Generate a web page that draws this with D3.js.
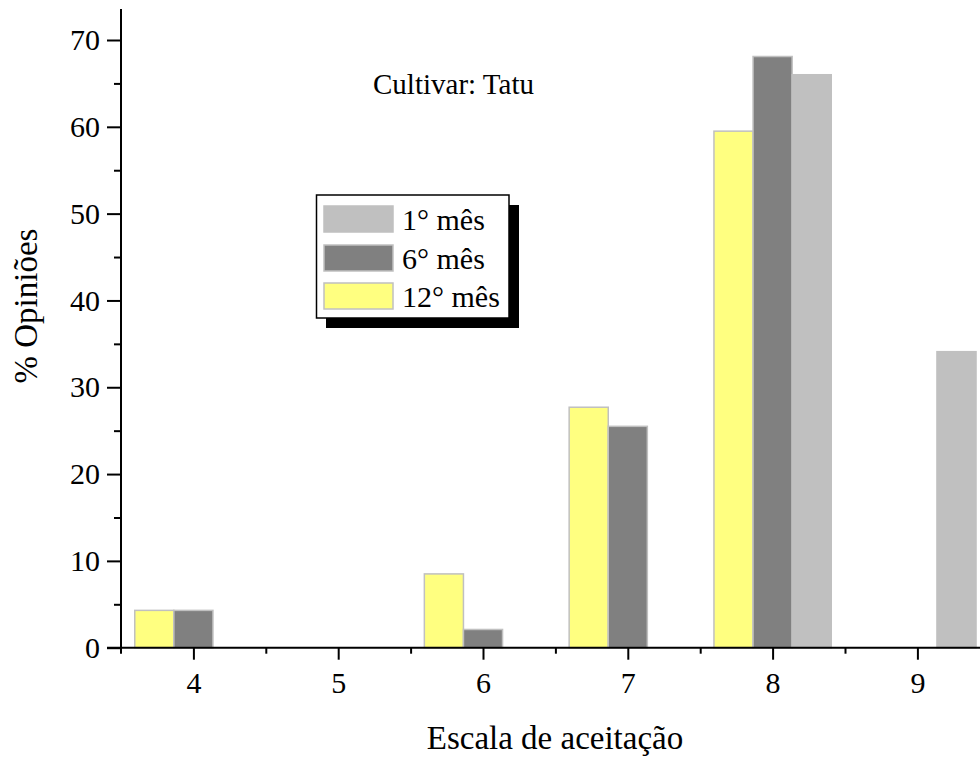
<!DOCTYPE html>
<html>
<head>
<meta charset="utf-8">
<script src="https://cdn.jsdelivr.net/npm/d3@7"></script>
<style>
  body { margin: 0; background: #fff; }
  text { font-family: "Liberation Serif", "Times New Roman", serif; fill: #000; }
</style>
</head>
<body>
<div id="chart"></div>
<script>

/* DATA */
const categories = [4, 5, 6, 7, 8, 9];
const seriesNames = ["12° mês", "6° mês", "1° mês"];
const month12 = [4.3, 0, 8.5, 27.7, 59.5, 0];
const month6 = [4.3, 0, 2.1, 25.5, 68.1, 0];
const month1 = [0, 0, 0, 0, 66.0, 34.1];
const yTicks = [0, 10, 20, 30, 40, 50, 60, 70];
const legendOrder = ["1° mês", "6° mês", "12° mês"];

const width = 980;
const height = 759;

const colors = {
  "1° mês": "#c0c0c0",
  "6° mês": "#808080",
  "12° mês": "#ffff80"
};

const svg = d3.select("#chart")
  .append("svg")
  .attr("width", width)
  .attr("height", height);

// SCALES
const xScale = d3.scaleLinear()
  .domain([3.5, 9.5])
  .range([121, 121 + 6 * 144.8]);

const yScale = d3.scaleLinear()
  .domain([0, 70])
  .range([647.7, 40]);

// bars sit side by side, 6° mês centred on the tick
const barW = 0.27;
const offset = d3.scaleOrdinal()
  .domain(seriesNames)
  .range([-1.5 * barW, -0.5 * barW, 0.5 * barW]);

const rows = [];
const seriesVals = [month12, month6, month1];
seriesNames.forEach((s, si) => {
  categories.forEach((c, ci) => {
    if (seriesVals[si][ci] > 0) rows.push({ series: s, cat: c, value: seriesVals[si][ci] });
  });
});

// BARS
svg.selectAll("rect.bar")
  .data(rows)
  .join("rect")
  .attr("class", "bar")
  .attr("x", d => xScale(d.cat + offset(d.series)))
  .attr("width", d => xScale(d.cat + offset(d.series) + barW) - xScale(d.cat + offset(d.series)))
  .attr("y", d => yScale(d.value))
  .attr("height", d => yScale(0) - yScale(d.value))
  .attr("fill", d => colors[d.series])
  .attr("stroke", "#c0c0c0")
  .attr("stroke-width", 1.5);

// AXES
const yAxis = d3.axisLeft(yScale).tickValues(yTicks).tickSize(14).tickSizeOuter(0).tickPadding(7);
const yMinor = d3.axisLeft(yScale).tickValues(d3.range(5, 70, 10)).tickSize(7).tickFormat("");

svg.append("g")
  .attr("transform", `translate(${xScale(3.5)},0)`)
  .call(yAxis);
svg.append("g")
  .attr("transform", `translate(${xScale(3.5)},0)`)
  .call(yMinor);

const xAxis = d3.axisBottom(xScale).tickValues(categories).tickFormat(d3.format("d"))
  .tickSize(12).tickSizeOuter(0).tickPadding(12);
const xMinor = d3.axisBottom(xScale).tickValues(d3.range(4.5, 9.6, 1)).tickSize(6).tickFormat("");

svg.append("g")
  .attr("transform", `translate(0,${yScale(0)})`)
  .call(xAxis);
svg.append("g")
  .attr("transform", `translate(0,${yScale(0)})`)
  .call(xMinor);

svg.selectAll(".domain").remove();
svg.selectAll(".tick line").attr("stroke", "#000").attr("stroke-width", 2);
svg.selectAll(".tick text")
  .style("font-family", "'Liberation Serif', serif")
  .style("font-size", "30px")
  .attr("fill", "#000");

// axis lines, slightly overshooting like the original
svg.append("line")
  .attr("x1", xScale(3.5)).attr("x2", xScale(3.5))
  .attr("y1", 9).attr("y2", yScale(0) + 6)
  .attr("stroke", "#000").attr("stroke-width", 2);
svg.append("line")
  .attr("x1", xScale(3.5) - 14).attr("x2", width)
  .attr("y1", yScale(0)).attr("y2", yScale(0))
  .attr("stroke", "#000").attr("stroke-width", 2);

// AXIS TITLES
svg.append("text")
  .attr("text-anchor", "middle")
  .attr("x", 555)
  .attr("y", 749)
  .style("font-size", "33px")
  .text("Escala de aceitação");

svg.append("text")
  .attr("text-anchor", "middle")
  .attr("transform", "rotate(-90)")
  .attr("x", -306)
  .attr("y", 37)
  .style("font-size", "33px")
  .text("% Opiniões");

svg.append("text")
  .attr("x", 373)
  .attr("y", 94)
  .style("font-size", "29px")
  .text("Cultivar: Tatu");

// LEGEND
const lg = svg.append("g");
lg.append("rect")
  .attr("x", 326).attr("y", 205)
  .attr("width", 193).attr("height", 123)
  .attr("fill", "#000");
lg.append("rect")
  .attr("x", 316.5).attr("y", 195)
  .attr("width", 192.5).attr("height", 123)
  .attr("fill", "#fff")
  .attr("stroke", "#000")
  .attr("stroke-width", 1.5);

const swatchY = [206, 245, 283];
lg.selectAll("rect.sw")
  .data(legendOrder)
  .join("rect")
  .attr("class", "sw")
  .attr("x", 324)
  .attr("y", (_, i) => swatchY[i])
  .attr("width", 69)
  .attr("height", 26)
  .attr("fill", d => colors[d])
  .attr("stroke", "#c0c0c0")
  .attr("stroke-width", 1.5);

lg.selectAll("text.lab")
  .data(legendOrder)
  .join("text")
  .attr("class", "lab")
  .attr("x", 402)
  .attr("y", (_, i) => swatchY[i] + 24)
  .style("font-size", "30px")
  .text(d => d);

</script>
</body>
</html>
